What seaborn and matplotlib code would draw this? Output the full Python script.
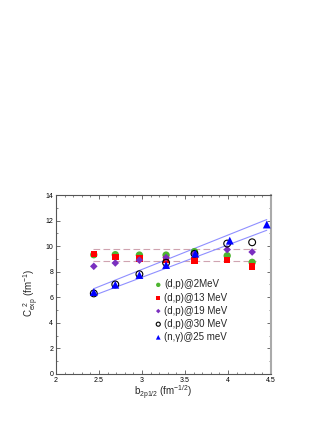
import numpy as np
import pandas as pd
import matplotlib
matplotlib.use("Agg")
import matplotlib.pyplot as plt
import seaborn as sns
from matplotlib.ticker import MultipleLocator

# b_2p1/2 values (fm^-1/2)
b_vals = [2.44, 2.69, 2.97, 3.28, 3.61, 3.99, 4.28]
b_ng = [2.44, 2.69, 2.97, 3.28, 3.62, 4.02, 4.45]

# C_exp^2 (fm^-1)
c_dp2 = [9.33, 9.33, 9.30, 9.30, 9.57, 9.25, 8.73]
c_dp13 = [9.40, 9.15, 9.02, 8.94, 8.86, 8.90, 8.42]
c_dp19 = [8.42, 8.68, 8.90, 9.10, 9.40, 9.73, 9.54]
c_dp30 = [6.30, 7.00, 7.80, 8.70, 9.40, 10.20, 10.30]
c_ng = [6.40, 6.98, 7.74, 8.52, 9.41, 10.43, 11.69]

labels = ["(d,p)@2MeV", "(d,p)@13 MeV", "(d,p)@19 MeV", "(d,p)@30 MeV", "(n,\u03b3)@25 meV"]

# band lines
band_x = [2.44, 4.45]
band_hi = [6.67, 12.08]
band_lo = [6.14, 11.24]
avg_x = [2.43, 4.33]
avg_hi = 9.78
avg_lo = 8.86

sns.set_theme(style="ticks")
plt.rcParams['font.family'] = ['Liberation Sans', 'DejaVu Sans']
plt.rcParams['mathtext.fontset'] = 'custom'
plt.rcParams['mathtext.rm'] = 'Liberation Sans'
plt.rcParams['mathtext.it'] = 'Liberation Sans:italic'

fig = plt.figure(figsize=(3.27, 4.23), dpi=100)
ax = fig.add_axes([0.171, 0.116, 0.658, 0.423])

ax.plot(avg_x, [avg_hi, avg_hi], color="#cfa3b0", lw=0.8, ls=(0, (6, 3)), zorder=1)
ax.plot(avg_x, [avg_lo, avg_lo], color="#cfa3b0", lw=0.8, ls=(0, (6, 3)), zorder=1)
ax.plot(band_x, band_hi, color="#8f8fff", lw=0.8, zorder=1)
ax.plot(band_x, band_lo, color="#8f8fff", lw=0.8, zorder=1)

sns.scatterplot(x=b_vals, y=c_dp2, ax=ax, marker="o", s=28, color="#4db52f",
                edgecolor="none", label=labels[0], zorder=3)
sns.scatterplot(x=b_vals, y=c_dp13, ax=ax, marker="s", s=22, color="#ff0000",
                edgecolor="none", label=labels[1], zorder=3)
sns.scatterplot(x=b_vals, y=c_dp19, ax=ax, marker="D", s=15, color="#7a2fbf",
                edgecolor="none", label=labels[2], zorder=3)
sns.scatterplot(x=b_vals, y=c_dp30, ax=ax, marker="o", s=24, facecolor="none",
                edgecolor="black", linewidth=0.8, label=labels[3], zorder=4)
sns.scatterplot(x=b_ng, y=c_ng, ax=ax, marker="^", s=32, color="#0000ff",
                edgecolor="none", label=labels[4], zorder=5)

ax.set_xlim(2, 4.5)
ax.set_ylim(0, 14)
ax.xaxis.set_major_locator(MultipleLocator(0.5))
ax.xaxis.set_minor_locator(MultipleLocator(0.1))
ax.yaxis.set_major_locator(MultipleLocator(2))
ax.yaxis.set_minor_locator(MultipleLocator(1))
ax.set_xticks([2, 2.5, 3, 3.5, 4, 4.5])
ax.set_xticklabels(["2", "2.5", "3", "3.5", "4", "4.5"])
ax.tick_params(which="both", direction="in", top=True, right=True,
               labelsize=5, colors="#555555", labelcolor="black", pad=2)
ax.tick_params(which="major", length=3, width=0.6)
ax.tick_params(which="minor", length=1.5, width=0.5)
for side in ["left", "bottom", "top"]:
    ax.spines[side].set_color("#555555")
    ax.spines[side].set_linewidth(0.8)
ax.spines["right"].set_color("#aaaaaa")
ax.spines["right"].set_linewidth(1.5)

ax.set_xlabel(r"b$_{\rm 2p1/2}$ (fm$^{-1/2}$)", fontsize=7, labelpad=0)
ax.set_ylabel(r"C$_{\rm exp}^{\ \ 2}$ (fm$^{-1}$)", fontsize=7)
ax.yaxis.set_label_coords(-0.07, 0.455)

ax.legend(loc="upper left", bbox_to_anchor=(0.435, 0.55), frameon=False,
          fontsize=7, handletextpad=0.1, labelspacing=0.32, borderaxespad=0,
          handlelength=1.0, markerscale=0.6)

fig.savefig("out.png", dpi=100)
